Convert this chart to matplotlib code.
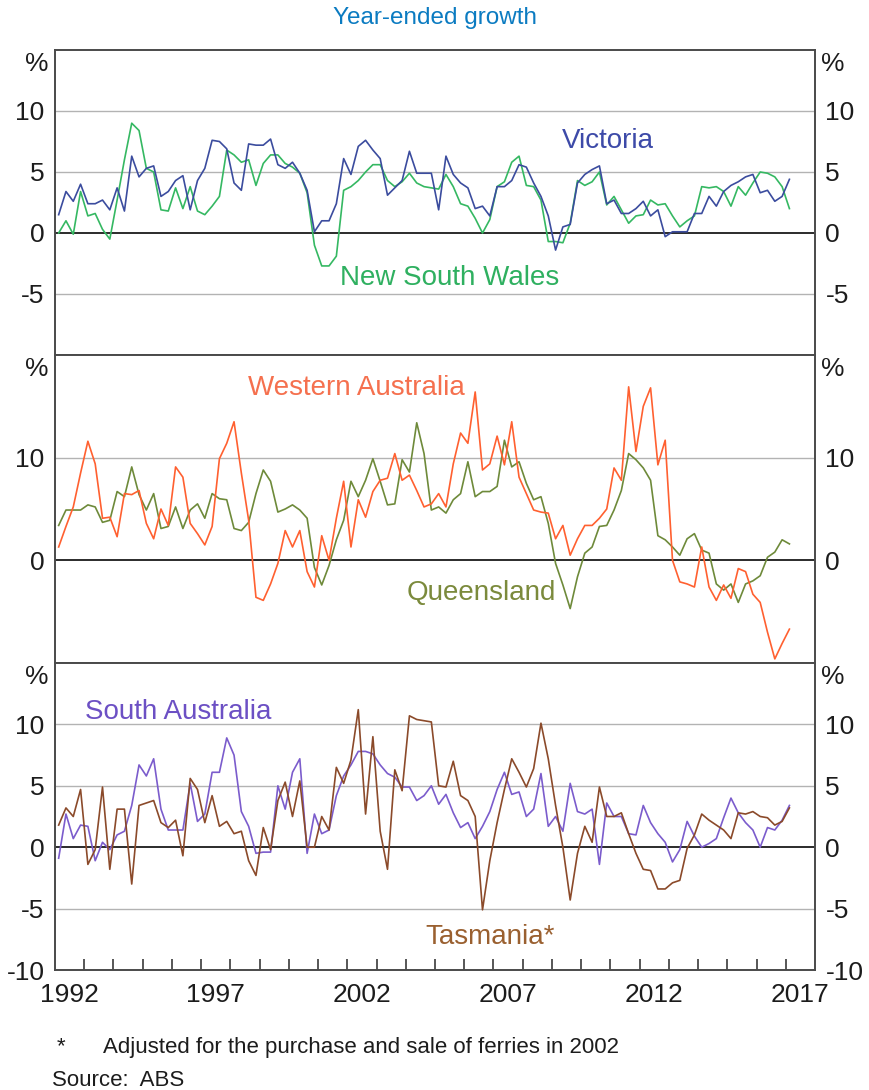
import numpy as np
import pandas as pd
import matplotlib
matplotlib.use("Agg")
import matplotlib.pyplot as plt

plt.rcParams["font.family"] = ["Liberation Sans", "DejaVu Sans"]

# quarterly, year-ended growth (%), 1992Q1 .. 2017Q1
quarters = pd.period_range("1992Q1", "2017Q1", freq="Q")

victoria = [1.5, 3.4, 2.6, 4.0, 2.4, 2.4, 2.7, 1.9, 3.7, 1.8,
            6.3, 4.6, 5.3, 5.5, 3.0, 3.4, 4.3, 4.7, 1.9, 4.3,
            5.3, 7.6, 7.5, 6.9, 4.1, 3.5, 7.3, 7.2, 7.2, 7.7,
            5.6, 5.3, 5.8, 4.9, 3.5, 0.1, 1.0, 1.0, 2.4, 6.1,
            4.8, 7.1, 7.6, 6.8, 6.1, 3.1, 3.7, 4.3, 6.7, 4.9,
            4.9, 4.9, 1.9, 6.3, 4.8, 4.1, 3.7, 2.0, 2.2, 1.4,
            3.8, 3.8, 4.3, 5.6, 5.4, 4.1, 3.0, 1.4, -1.4, 0.5,
            0.7, 4.1, 4.8, 5.2, 5.5, 2.4, 2.7, 1.6, 1.6, 2.0,
            2.6, 1.4, 1.9, -0.3, 0.1, 0.1, 0.1, 1.6, 1.6, 3.0,
            2.2, 3.4, 3.9, 4.2, 4.6, 4.8, 3.3, 3.5, 2.6, 3.0,
            4.4]
nsw = [0.0, 1.0, -0.1, 3.4, 1.4, 1.6, 0.3, -0.5, 2.7, 6.0,
       9.0, 8.4, 5.3, 5.0, 1.9, 1.8, 3.7, 2.0, 3.8, 1.8,
       1.5, 2.2, 3.0, 6.8, 6.4, 5.8, 6.0, 3.9, 5.7, 6.4,
       6.4, 5.7, 5.4, 4.9, 3.3, -1.0, -2.7, -2.7, -1.9, 3.5,
       3.8, 4.3, 5.0, 5.6, 5.6, 4.3, 3.8, 4.2, 4.9, 4.1,
       3.8, 3.7, 3.6, 4.8, 3.8, 2.4, 2.2, 1.2, 0.0, 1.1,
       3.8, 4.2, 5.8, 6.3, 3.9, 3.8, 2.7, -0.7, -0.7, -0.8,
       0.8, 4.3, 3.9, 4.2, 5.0, 2.3, 3.0, 1.9, 0.8, 1.4,
       1.5, 2.7, 2.3, 2.4, 1.4, 0.5, 1.0, 1.4, 3.8, 3.7,
       3.8, 3.4, 2.2, 3.8, 3.1, 4.1, 5.0, 4.9, 4.6, 3.8,
       2.0]
wa = [1.3, 3.3, 5.2, 8.5, 11.6, 9.4, 4.1, 4.2, 2.3, 6.5,
      6.4, 6.8, 3.6, 2.1, 5.0, 3.4, 9.1, 8.1, 3.6, 2.6,
      1.5, 3.3, 9.9, 11.4, 13.5, 8.5, 3.9, -3.6, -3.9, -2.3,
      -0.3, 2.9, 1.3, 2.9, -1.1, -2.6, 2.4, 0.0, 4.1, 7.7,
      1.3, 5.9, 4.2, 6.7, 7.8, 8.0, 10.4, 7.8, 8.3, 6.8,
      5.2, 5.5, 6.5, 5.2, 9.4, 12.4, 11.4, 16.4, 8.8, 9.4,
      12.1, 9.3, 13.5, 8.1, 6.5, 4.9, 4.7, 4.6, 2.1, 3.4,
      0.5, 2.1, 3.4, 3.4, 4.1, 5.0, 9.0, 7.8, 16.9, 10.6,
      15.0, 16.8, 9.3, 11.7, 0.0, -2.1, -2.3, -2.6, 1.3, -2.6,
      -3.9, -2.4, -3.7, -0.8, -1.1, -3.3, -4.1, -7.0, -9.6, -8.1,
      -6.7]
qld = [3.4, 4.9, 4.9, 4.9, 5.4, 5.2, 3.7, 3.9, 6.7, 6.2,
       9.1, 6.4, 4.9, 6.5, 3.1, 3.3, 5.2, 3.1, 4.9, 5.5,
       4.1, 6.5, 6.0, 5.9, 3.1, 2.9, 3.7, 6.5, 8.8, 7.7,
       4.7, 5.0, 5.4, 4.9, 4.1, -0.7, -2.4, -0.5, 2.0, 3.9,
       7.7, 6.2, 7.8, 9.9, 7.7, 5.4, 5.5, 9.8, 8.6, 13.4,
       10.4, 4.9, 5.2, 4.6, 5.9, 6.5, 9.6, 6.2, 6.7, 6.7,
       7.2, 11.7, 9.1, 9.6, 7.5, 5.9, 6.2, 3.6, -0.3, -2.4,
       -4.7, -1.6, 0.7, 1.3, 3.3, 3.4, 4.9, 6.8, 10.4, 9.8,
       9.0, 7.8, 2.4, 2.0, 1.3, 0.5, 2.1, 2.6, 1.0, 0.7,
       -2.3, -2.9, -2.3, -4.1, -2.3, -2.0, -1.5, 0.3, 0.8, 2.0,
       1.6]
sa = [-0.9, 2.7, 0.7, 1.8, 1.7, -1.1, 0.4, -0.2, 1.0, 1.3,
      3.4, 6.7, 5.8, 7.2, 3.1, 1.4, 1.4, 1.4, 5.2, 2.1,
      2.7, 6.1, 6.1, 8.9, 7.5, 2.9, 1.7, -0.5, -0.4, -0.4,
      5.0, 3.1, 6.1, 7.2, -0.5, 2.7, 1.1, 1.4, 4.2, 5.8,
      6.7, 7.8, 7.8, 7.6, 6.7, 6.0, 5.7, 4.9, 4.9, 3.8,
      4.2, 5.0, 3.5, 4.3, 2.8, 1.6, 2.0, 0.7, 1.7, 2.9,
      4.7, 6.1, 4.3, 4.5, 2.5, 3.1, 6.0, 1.7, 2.5, 1.3,
      5.2, 2.9, 2.7, 3.1, -1.4, 3.6, 2.5, 2.5, 1.1, 1.0,
      3.4, 2.0, 1.1, 0.4, -1.2, -0.2, 2.1, 0.9, 0.0, 0.3,
      0.7, 2.4, 4.0, 2.8, 2.0, 1.4, 0.0, 1.6, 1.4, 2.2,
      3.4]
tas = [1.8, 3.2, 2.5, 4.7, -1.4, -0.2, 4.9, -1.8, 3.1, 3.1,
       -3.0, 3.4, 3.6, 3.8, 2.0, 1.6, 2.2, -0.7, 5.6, 4.7,
       2.0, 4.2, 1.7, 2.1, 1.1, 1.3, -1.1, -2.3, 1.6, -0.2,
       3.8, 5.3, 2.5, 5.4, 0.0, 0.0, 2.5, 1.4, 6.5, 5.2,
       7.1, 11.2, 2.7, 9.0, 1.3, -1.8, 6.3, 4.6, 10.7, 10.4,
       10.3, 10.2, 5.0, 4.9, 7.0, 4.2, 3.8, 2.5, -5.1, -1.1,
       2.0, 4.7, 7.2, 6.1, 4.9, 6.4, 10.1, 7.2, 3.4, 0.0,
       -4.3, -0.5, 1.7, 0.4, 4.9, 2.5, 2.5, 2.8, 1.1, -0.5,
       -1.8, -1.9, -3.4, -3.4, -2.9, -2.7, -0.1, 1.0, 2.7, 2.2,
       1.8, 1.4, 0.7, 2.8, 2.7, 2.9, 2.5, 2.4, 1.8, 2.1,
       3.2]

year_labels = [1992, 1997, 2002, 2007, 2012, 2017]

# plot each quarter at its midpoint
t = np.asarray(quarters.year + (quarters.quarter - 0.5) / 4, dtype=float)

TXT = "#1c1c1c"
FS = 19
LFS = 20   # series labels

fig = plt.figure(figsize=(8.7, 10.9), dpi=100)
left, width = 55 / 870, 760 / 870
tops = [50, 355, 663]
bots = [355, 663, 970]
axes = [fig.add_axes([left, 1 - b / 1090, width, (b - tp) / 1090]) for tp, b in zip(tops, bots)]

panels = [
    dict(ylim=(-10, 15), ticks=[-5, 0, 5, 10], grid=[-5, 5, 10]),
    dict(ylim=(-10, 20), ticks=[0, 10], grid=[10]),
    dict(ylim=(-10, 15), ticks=[-10, -5, 0, 5, 10], grid=[-5, 5, 10]),
]

for ax, p in zip(axes, panels):
    ax.set_xlim(1992, 2018)
    ax.set_ylim(*p["ylim"])
    for g in p["grid"]:
        ax.axhline(g, color="#b3b3b3", lw=1.0, zorder=1)
    ax.axhline(0, color="#2b2b2b", lw=1.4, zorder=1)
    ax.set_yticks(p["ticks"])
    ax.set_yticklabels([str(v) for v in p["ticks"]])
    ax.tick_params(axis="y", left=False, right=False, labelleft=True, labelright=True,
                   labelsize=FS, labelcolor=TXT, pad=4)
    for s in ax.spines.values():
        s.set_color("#4a4a4a")
        s.set_linewidth(1.4)
    ax.text(-0.008, 0.995, "%", transform=ax.transAxes, ha="right", va="top",
            fontsize=FS, color=TXT)
    ax.text(1.008, 0.995, "%", transform=ax.transAxes, ha="left", va="top",
            fontsize=FS, color=TXT)
    ax.set_xticks([])

# bottom x axis: ticks at year boundaries, labels centred on the year
ax3 = axes[2]
ax3.set_xticks(np.arange(1993, 2018))
ax3.set_xticklabels([])
ax3.set_xticks([y + 0.5 for y in year_labels], minor=True)
ax3.set_xticklabels([str(y) for y in year_labels], minor=True)
ax3.tick_params(axis="x", which="major", direction="in", length=8, width=1.2,
                color="#3a3a3a", top=False)
ax3.tick_params(axis="x", which="minor", length=0, pad=9, labelsize=FS, labelcolor=TXT)

lw = 1.2
ax1, ax2 = axes[0], axes[1]
ax1.plot(t, nsw, color="#35b862", lw=lw, zorder=3)
ax1.plot(t, victoria, color="#3b4c9e", lw=lw, zorder=4)
ax1.text(2010.9, 7.5, "Victoria", color="#3d4aa8", fontsize=LFS, ha="center", va="center")
ax1.text(2005.5, -3.7, "New South Wales", color="#2fb060", fontsize=LFS, ha="center", va="center")

ax2.plot(t, qld, color="#6e8a3a", lw=lw, zorder=3)
ax2.plot(t, wa, color="#ff6030", lw=lw, zorder=4)
ax2.text(2002.3, 16.8, "Western Australia", color="#f5704e", fontsize=LFS, ha="center", va="center")
ax2.text(2006.6, -3.2, "Queensland", color="#7b8a3c", fontsize=LFS, ha="center", va="center")

ax3.plot(t, sa, color="#7b5ccc", lw=lw, zorder=3)
ax3.plot(t, tas, color="#8b4a2a", lw=lw, zorder=4)
ax3.text(1996.2, 11.0, "South Australia", color="#6c50c4", fontsize=LFS, ha="center", va="center")
ax3.text(2006.9, -7.3, "Tasmania*", color="#9a6030", fontsize=LFS, ha="center", va="center")

fig.text(435 / 870, 1 - 18 / 1090, "Year-ended growth", color="#0b7bc1", fontsize=17.5,
         ha="center", va="center")
fig.text(57 / 870, 1 - 1047 / 1090, "*", color=TXT, fontsize=16, ha="left", va="center")
fig.text(103 / 870, 1 - 1047 / 1090, "Adjusted for the purchase and sale of ferries in 2002",
         color=TXT, fontsize=16, ha="left", va="center")
fig.text(52 / 870, 1 - 1080 / 1090, "Source:  ABS", color=TXT, fontsize=16, ha="left", va="center")

fig.savefig("out.png", dpi=100)
